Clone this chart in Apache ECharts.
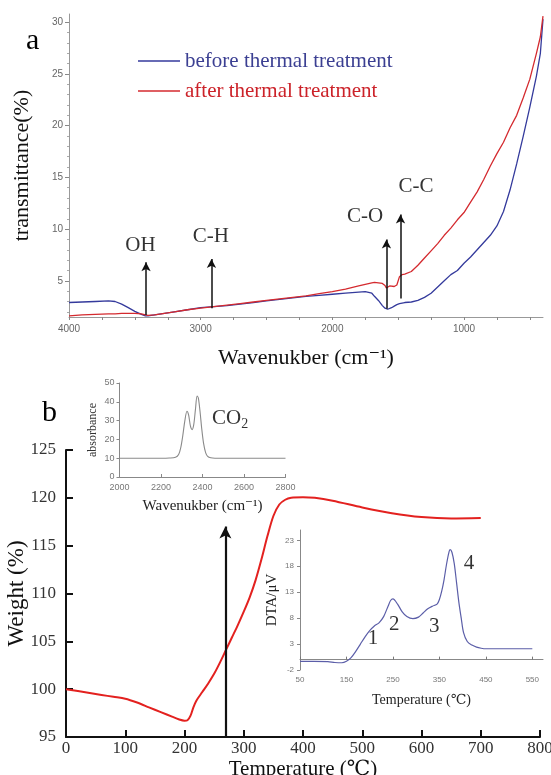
<!DOCTYPE html>
<html>
<head>
<meta charset="UTF-8" />
<title>FTIR / TG-DTA</title>
<script src="https://cdn.jsdelivr.net/npm/echarts@6/dist/echarts.min.js"></script>
<style>
  html, body { margin: 0; padding: 0; background: #fff; }
  #chart { width: 551px; height: 775px; }
</style>
</head>
<body>
<div id="chart"></div>
<script>
// ---- panel a : FTIR ----
const ftirWavenumber = [4000, 3900, 3800, 3700, 3650, 3600, 3550, 3500, 3450, 3420, 3400, 3350, 3300, 3200, 3100,
  3000, 2900, 2800, 2700, 2600, 2500, 2400, 2300, 2200, 2100, 2000, 1900, 1800, 1750, 1700, 1680, 1650, 1620,
  1600, 1590, 1580, 1565, 1550, 1530, 1510, 1490, 1470, 1450, 1400, 1350, 1300, 1250, 1200, 1150, 1100, 1050,
  1000, 950, 900, 850, 800, 750, 700, 650, 600, 550, 500, 450, 420, 400];
const ftirBefore = [2.9, 2.95, 3.0, 3.05, 3.0, 2.75, 2.4, 2.05, 1.75, 1.6, 1.6, 1.7, 1.8, 2.0, 2.2,
  2.4, 2.5, 2.6, 2.75, 2.9, 3.05, 3.2, 3.35, 3.5, 3.6, 3.7, 3.8, 3.9, 3.95, 3.8, 3.5, 3.1, 2.6,
  2.35, 2.25, 2.25, 2.3, 2.4, 2.55, 2.7, 2.8, 2.85, 2.9, 2.95, 3.1, 3.4, 3.8, 4.4, 5.0, 5.6, 6.0,
  6.7, 7.3, 8.0, 8.7, 9.4, 10.3, 11.7, 13.8, 16.3, 19.0, 21.8, 24.8, 27.0, 30.3];
const ftirAfter = [1.6, 1.7, 1.75, 1.8, 1.8, 1.85, 1.85, 1.85, 1.8, 1.7, 1.65, 1.7, 1.8, 2.0, 2.2,
  2.35, 2.5, 2.65, 2.8, 2.95, 3.1, 3.25, 3.4, 3.55, 3.75, 3.95, 4.2, 4.5, 4.65, 4.8, 4.85, 4.8, 4.75,
  4.55, 4.3, 4.2, 4.5, 4.55, 4.45, 4.6, 5.4, 5.6, 5.65, 5.9, 6.5, 7.2, 7.9, 8.6, 9.4, 10.1, 10.9,
  11.6, 12.6, 13.6, 14.8, 16.1, 17.3, 18.4, 19.8, 21.0, 22.7, 24.5, 27.0, 28.6, 30.6];
const ftirXLabels = [1000, 2000, 3000, 4000];
const ftirXTicks = [500, 750, 1000, 1250, 1500, 1750, 2000, 2250, 2500, 2750, 3000, 3250, 3500, 3750, 4000];
const ftirYLabels = [5, 10, 15, 20, 25, 30];
const ftirYMinor = [2, 3, 4, 6, 7, 8, 9, 11, 12, 13, 14, 16, 17, 18, 19, 21, 22, 23, 24, 26, 27, 28, 29];
// bond labels: [wavenumber, value, text] and arrows [wavenumber, from, to]
const bondLabels = [[3457, 8.4, 'OH'], [2922, 9.3, 'C-H'], [1752, 11.2, 'C-O'], [1365, 14.1, 'C-C']];
const bondArrows = [[3415, 1.7, 6.8], [2918, 2.35, 7.1], [1589, 2.3, 9.0], [1482, 3.3, 11.4]];

// ---- panel b : TG ----
const tgTemp = [0, 20, 40, 60, 80, 100, 120, 140, 160, 180, 190, 200, 205, 210, 215, 220, 230, 240, 250, 260,
  270, 280, 290, 300, 310, 320, 330, 340, 350, 360, 370, 380, 400, 420, 450, 500, 550, 600, 650, 700];
const tgWeight = [100, 99.8, 99.6, 99.4, 99.2, 99.0, 98.6, 98.1, 97.6, 97.1, 96.85, 96.7, 96.75, 97.2, 98.1, 98.8,
  99.7, 100.6, 101.6, 102.8, 104.1, 105.4, 106.7, 108.1, 109.6, 111.4, 113.6, 116.0, 118.1, 119.3, 119.8, 120.0,
  120.05, 120.0, 119.7, 119.0, 118.4, 118.0, 117.85, 117.9];
const tgArrow = [269, 95, 117];

// ---- inset : CO2 spectrum ----
const co2Wavenumber = [2000, 2100, 2200, 2240, 2270, 2285, 2295, 2305, 2315, 2325, 2333, 2342, 2350, 2358, 2366,
  2374, 2380, 2388, 2396, 2405, 2415, 2425, 2440, 2460, 2500, 2600, 2700, 2800];
const co2Absorbance = [10, 10, 10, 10.1, 10.5, 12, 15.5, 22, 30, 35, 33, 27, 25.2, 28, 36,
  43, 42, 35, 26, 18, 13, 11, 10.2, 10, 10, 10, 10, 10];

// ---- inset : DTA ----
const dtaTemp = [50, 80, 110, 125, 140, 150, 160, 170, 180, 190, 200, 210, 220, 230, 240, 245, 250, 260, 270, 280,
  293, 305, 315, 325, 335, 345, 350, 355, 360, 365, 370, 373, 377, 382, 387, 392, 397, 402, 410, 420, 430, 440,
  450, 500, 550];
const dtaSignal = [-0.35, -0.35, -0.4, -0.55, -0.6, -0.3, 0.4, 1.6, 3.0, 4.4, 5.6, 6.5, 7.1, 8.3, 10.4, 11.4, 11.7,
  10.7, 9.2, 8.3, 7.9, 8.2, 9.0, 9.8, 10.3, 10.7, 11.6, 13.2, 15.4, 18.2, 20.5, 21.2, 20.7, 18.5, 14.8, 11.0, 8.0,
  5.2, 3.5, 2.8, 2.4, 2.2, 2.1, 2.1, 2.1];
const dtaXLabels = [50, 150, 250, 350, 450, 550];
const dtaYLabels = [-2, 3, 8, 13, 18, 23];
const dtaPeaks = [[207, 4.1, '1'], [253, 6.7, '2'], [339, 6.4, '3'], [414, 18.6, '4']];

const SERIF = '"Liberation Serif", "DejaVu Serif", serif';
const blue = '#343a9c';
const red = '#d42a2f';

function zip(xs, ys) { return xs.map((x, i) => [x, ys[i]]); }
const plain = v => String(v);

const chart = echarts.init(document.getElementById('chart'));

const grayAxis = c => ({ show: true, lineStyle: { color: c, width: 1 } });
const textMarks = {
  type: 'scatter', symbolSize: 0, itemStyle: { color: '#111' },
  label: { show: true, position: 'inside', formatter: p => p.name,
    fontFamily: SERIF, fontSize: 21, color: '#000' }
};

chart.setOption({
  animation: false,
  backgroundColor: '#fff',
  grid: [
    { left: 69, top: 14, width: 474, height: 303, outerBoundsMode: 'none' },
    { left: 66, top: 450, width: 474, height: 287, outerBoundsMode: 'none' },
    { left: 119.5, top: 383, width: 166, height: 94, outerBoundsMode: 'none' },
    { left: 300, top: 530, width: 243, height: 140, outerBoundsMode: 'none' }
  ],
  legend: {
    orient: 'vertical',
    left: 133, top: 44,
    icon: 'rect',
    itemWidth: 42, itemHeight: 1.6, itemGap: 6,
    textStyle: { fontFamily: SERIF, fontSize: 21, lineHeight: 24 },
    data: [
      { name: 'before thermal treatment', textStyle: { color: '#3b3f92' } },
      { name: 'after thermal treatment', textStyle: { color: '#cc2229' } }
    ]
  },
  xAxis: [
    {
      gridIndex: 0, type: 'value', inverse: true, min: 400, max: 4000,
      axisLine: grayAxis('#999'),
      axisTick: { show: true, customValues: ftirXTicks, length: 3, lineStyle: { color: '#888' } },
      axisLabel: { customValues: ftirXLabels, formatter: plain, fontSize: 10, color: '#666', margin: 7 },
      splitLine: { show: false },
      name: 'Wavenukber (cm⁻¹)', nameLocation: 'middle', nameGap: 30, nameMoveOverlap: false,
      nameTextStyle: { fontFamily: SERIF, fontSize: 22, color: '#111' }
    },
    {
      gridIndex: 1, type: 'value', min: 0, max: 800, interval: 100,
      axisLine: { lineStyle: { color: '#111', width: 2 } },
      axisTick: { inside: true, length: 7, lineStyle: { color: '#111', width: 2 } },
      axisLabel: { fontFamily: SERIF, fontSize: 17, color: '#333', margin: 3 },
      splitLine: { show: false },
      name: 'Temperature (℃)', nameLocation: 'middle', nameGap: 22, nameMoveOverlap: false,
      nameTextStyle: { fontFamily: SERIF, fontSize: 21, color: '#111' }
    },
    {
      gridIndex: 2, type: 'value', min: 2000, max: 2800, interval: 200,
      axisLine: grayAxis('#888'),
      axisTick: { inside: true, length: 3, lineStyle: { color: '#888' } },
      axisLabel: { formatter: plain, fontSize: 9, color: '#777', margin: 6 },
      splitLine: { show: false },
      name: 'Wavenukber (cm⁻¹)', nameLocation: 'middle', nameGap: 22, nameMoveOverlap: false,
      nameTextStyle: { fontFamily: SERIF, fontSize: 15, color: '#222' }
    },
    {
      gridIndex: 3, type: 'value', min: 50, max: 573,
      axisLine: grayAxis('#888'),
      axisTick: { inside: true, length: 3, customValues: dtaXLabels, lineStyle: { color: '#777' } },
      axisLabel: { customValues: dtaXLabels, fontSize: 8, color: '#777', margin: 6 },
      splitLine: { show: false },
      name: 'Temperature (℃)', nameLocation: 'middle', nameGap: 23, nameMoveOverlap: false,
      nameTextStyle: { fontFamily: SERIF, fontSize: 14, color: '#222' }
    }
  ],
  yAxis: [
    {
      gridIndex: 0, type: 'value', min: 1.5, max: 30.8, position: 'left',
      axisLine: grayAxis('#999'),
      axisTick: { show: true, customValues: ftirYLabels, length: 4, lineStyle: { color: '#888' } },
      axisLabel: { customValues: ftirYLabels, fontSize: 10, color: '#666', margin: 6 },
      splitLine: { show: false },
      name: 'transmittance(%)', nameLocation: 'middle', nameGap: 36, nameMoveOverlap: false,
      nameTextStyle: { fontFamily: SERIF, fontSize: 22, color: '#111' }
    },
    {
      gridIndex: 0, type: 'value', min: 1.5, max: 30.8, position: 'left', offset: 0,
      axisLine: { show: false },
      axisTick: { show: true, customValues: ftirYMinor, length: 2, lineStyle: { color: '#aaa' } },
      axisLabel: { show: false },
      splitLine: { show: false }
    },
    {
      gridIndex: 1, type: 'value', min: 95, max: 125, interval: 5,
      axisLine: { show: true, lineStyle: { color: '#111', width: 2 } },
      axisTick: { show: true, inside: true, length: 7, lineStyle: { color: '#111', width: 2 } },
      axisLabel: { fontFamily: SERIF, fontSize: 17, color: '#333', margin: 10 },
      splitLine: { show: false },
      name: 'Weight (%)', nameLocation: 'middle', nameGap: 38, nameMoveOverlap: false,
      nameTextStyle: { fontFamily: SERIF, fontSize: 23, color: '#111' }
    },
    {
      gridIndex: 2, type: 'value', min: 0, max: 50, interval: 10,
      axisLine: grayAxis('#888'),
      axisTick: { show: true, length: 3, lineStyle: { color: '#888' } },
      axisLabel: { fontSize: 9, color: '#777', margin: 5 },
      splitLine: { show: false },
      name: 'absorbance', nameLocation: 'middle', nameGap: 21, nameMoveOverlap: false,
      nameTextStyle: { fontFamily: SERIF, fontSize: 12, color: '#333' }
    },
    {
      gridIndex: 3, type: 'value', min: -2, max: 25,
      axisLine: grayAxis('#888'),
      axisTick: { show: true, length: 3, customValues: dtaYLabels, lineStyle: { color: '#888' } },
      axisLabel: { customValues: dtaYLabels, fontSize: 8, color: '#777', margin: 6 },
      splitLine: { show: false },
      name: 'DTA/μV', nameLocation: 'middle', nameGap: 20, nameMoveOverlap: false,
      nameTextStyle: { fontFamily: SERIF, fontSize: 15, color: '#222' }
    }
  ],
  series: [
    {
      name: 'before thermal treatment', type: 'line', xAxisIndex: 0, yAxisIndex: 0,
      data: zip(ftirWavenumber, ftirBefore), symbol: 'none',
      lineStyle: { color: blue, width: 1.3 }, itemStyle: { color: blue }
    },
    {
      name: 'after thermal treatment', type: 'line', xAxisIndex: 0, yAxisIndex: 0,
      data: zip(ftirWavenumber, ftirAfter), symbol: 'none',
      lineStyle: { color: red, width: 1.3 }, itemStyle: { color: red }
    },
    Object.assign({}, textMarks, {
      name: 'bonds', xAxisIndex: 0, yAxisIndex: 0,
      data: bondLabels.map(d => ({ value: [d[0], d[1]], name: d[2] })),
      markLine: {
        silent: true, symbol: ['none', 'arrow'], symbolSize: [7, 9],
        lineStyle: { color: '#111', width: 1.5, type: 'solid' },
        label: { show: false },
        data: bondArrows.map(a => [{ coord: [a[0], a[1]] }, { coord: [a[0], a[2]] }])
      }
    }),
    {
      name: 'TG', type: 'line', xAxisIndex: 1, yAxisIndex: 2,
      data: zip(tgTemp, tgWeight), symbol: 'none', smooth: 0.3,
      lineStyle: { color: '#e3211f', width: 2 },
      markLine: {
        silent: true, symbol: ['none', 'arrow'], symbolSize: [9, 12],
        lineStyle: { color: '#111', width: 2.2, type: 'solid' },
        label: { show: false },
        data: [[{ coord: [tgArrow[0], tgArrow[1]] }, { coord: [tgArrow[0], tgArrow[2]] }]]
      }
    },
    {
      name: 'CO2', type: 'line', xAxisIndex: 2, yAxisIndex: 3,
      data: zip(co2Wavenumber, co2Absorbance), symbol: 'none', smooth: 0.3,
      lineStyle: { color: '#8a8a8a', width: 1.1 }
    },
    {
      name: 'co2label', type: 'scatter', xAxisIndex: 2, yAxisIndex: 3,
      data: [{ value: [2533, 31], name: 'CO2' }],
      symbolSize: 0, itemStyle: { color: '#111' },
      label: { show: true, position: 'inside', formatter: '{a|CO}{b|2}',
        rich: {
          a: { fontFamily: SERIF, fontSize: 21, color: '#000', lineHeight: 26 },
          b: { fontFamily: SERIF, fontSize: 14, color: '#000', verticalAlign: 'bottom', lineHeight: 26 }
        } }
    },
    {
      name: 'DTA', type: 'line', xAxisIndex: 3, yAxisIndex: 4,
      data: zip(dtaTemp, dtaSignal), symbol: 'none', smooth: 0.3,
      lineStyle: { color: '#5b5ea8', width: 1.2 }
    },
    Object.assign({}, textMarks, {
      name: 'peaks', xAxisIndex: 3, yAxisIndex: 4,
      data: dtaPeaks.map(d => ({ value: [d[0], d[1]], name: d[2] }))
    })
  ],
  graphic: [
    { type: 'text', left: 26, top: 26, style: { text: 'a', fontFamily: SERIF, fontSize: 30, fill: '#000' } },
    { type: 'text', left: 42, top: 398, style: { text: 'b', fontFamily: SERIF, fontSize: 30, fill: '#000' } }
  ]
});
</script>
</body>
</html>
